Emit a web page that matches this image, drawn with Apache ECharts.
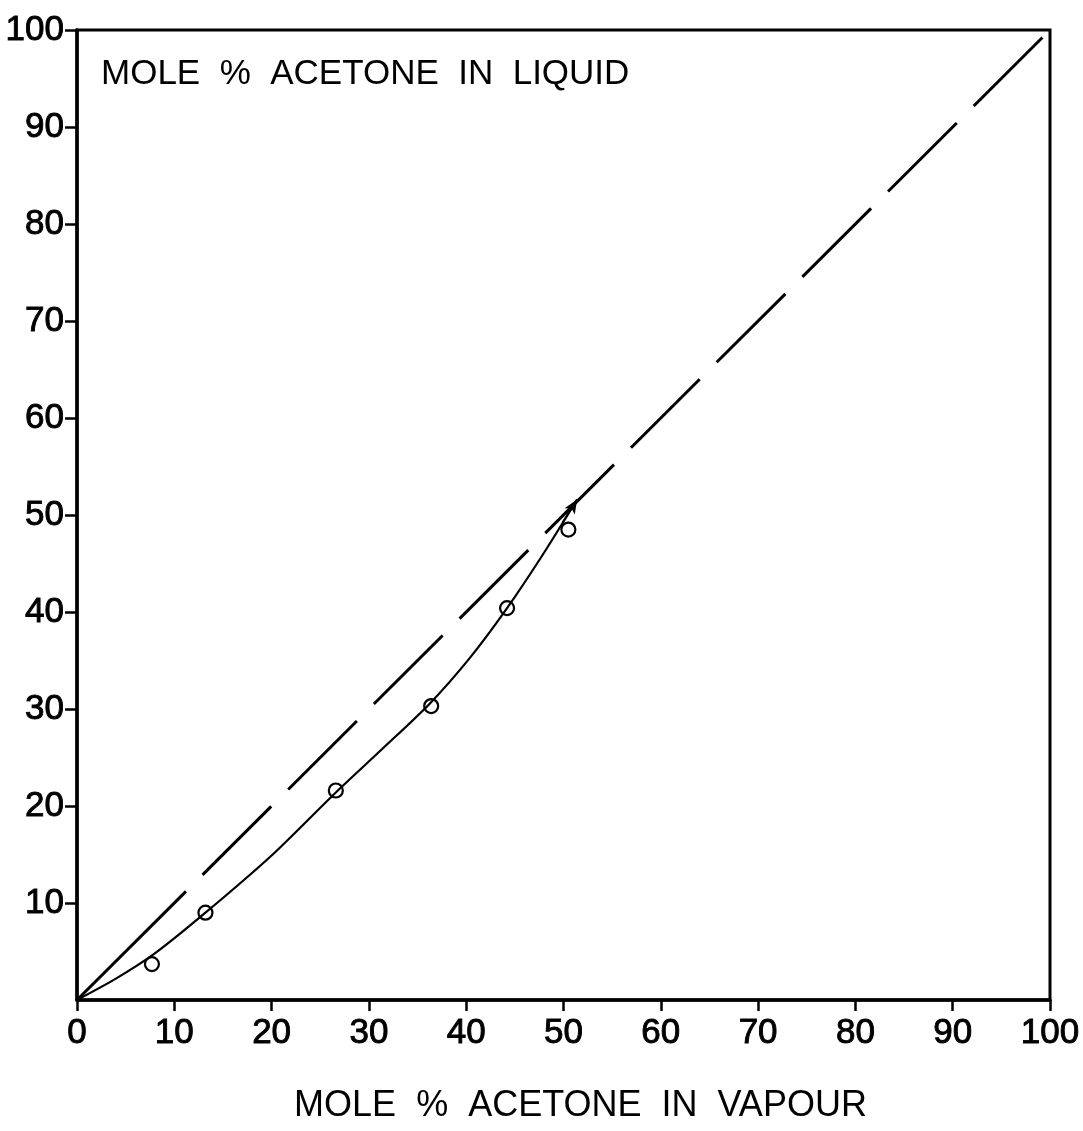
<!DOCTYPE html>
<html>
<head>
<meta charset="utf-8">
<script src="https://cdn.jsdelivr.net/npm/echarts@6/dist/echarts.min.js"></script>
<style>
html,body{margin:0;padding:0;background:#fff;}
#chart{width:1083px;height:1131px;}
</style>
</head>
<body>
<div id="chart"></div>
<script>
// Axis ticks
const xTicks = [0, 10, 20, 30, 40, 50, 60, 70, 80, 90, 100];
const yTicks = [10, 20, 30, 40, 50, 60, 70, 80, 90, 100];

// Measured points: mole % acetone in vapour (x) vs in liquid (y)
const pointX = [7.7, 13.2, 26.6, 36.4, 44.2, 50.5];
const pointY = [3.7, 9.0, 21.6, 30.3, 40.4, 48.5];

// Hand-drawn fitted curve
const curveX = [0, 4.0, 8.0, 13.2, 20.0, 26.6, 31.5, 36.2, 40.4, 44.2, 47.8, 51.4];
const curveY = [0, 2.2, 4.8, 9.0, 14.9, 21.4, 26.0, 30.5, 35.3, 40.4, 45.8, 51.6];

// Arrow at the end of the curve (tail, tip)
const arrowX = [49.9, 51.4];
const arrowY = [49.2, 51.6];

// 45-degree reference line (x = y): solid lead-in then dashed
const diagSolidX = [0, 11.2];
const diagSolidY = [0, 11.2];
const diagDashX = [12.9, 100];
const diagDashY = [12.9, 100];

const zip = (a, b) => a.map((v, i) => [v, b[i]]);
const FONT = 'Liberation Sans';
const tickFont = {fontFamily: FONT, fontSize: 35, fontWeight: 'normal', color: '#000',
  textBorderColor: '#000', textBorderWidth: 0.9};

const chart = echarts.init(document.getElementById('chart'), null, {renderer: 'canvas'});
chart.setOption({
  backgroundColor: '#fff',
  animation: false,
  title: {
    text: 'MOLE  %  ACETONE  IN  LIQUID',
    left: 96, top: 52,
    textStyle: {fontFamily: FONT, fontSize: 35, fontWeight: 'normal', color: '#000'}
  },
  grid: {
    left: 77, right: 33, top: 30, bottom: 131,
    show: true, borderColor: '#000', borderWidth: 3,
    outerBoundsMode: 'none'
  },
  xAxis: {
    type: 'value', min: 0, max: 100, interval: 10,
    name: 'MOLE  %  ACETONE  IN  VAPOUR',
    nameLocation: 'middle', nameGap: 88,
    nameTextStyle: {fontFamily: FONT, fontSize: 36, color: '#000', padding: [0, 0, 0, 34]},
    axisLine: {show: true, onZero: false, lineStyle: {color: '#000', width: 3.5}},
    axisTick: {show: true, length: 11, lineStyle: {color: '#000', width: 2.5}},
    axisLabel: Object.assign({margin: 16, customValues: xTicks}, tickFont),
    splitLine: {show: false}
  },
  yAxis: {
    type: 'value', min: 0, max: 100, interval: 10,
    axisLine: {show: true, onZero: false, lineStyle: {color: '#000', width: 3.5}},
    axisTick: {show: true, length: 12, lineStyle: {color: '#000', width: 2.5},
      customValues: yTicks},
    axisLabel: Object.assign({margin: 13, customValues: yTicks}, tickFont),
    splitLine: {show: false}
  },
  series: [
    {
      type: 'line', data: zip(diagSolidX, diagSolidY), symbol: 'none',
      lineStyle: {color: '#000', width: 3}, silent: true
    },
    {
      type: 'line', data: zip(diagDashX, diagDashY), symbol: 'none',
      lineStyle: {color: '#000', width: 3, type: [97, 24]}, silent: true
    },
    {
      type: 'line', data: zip(curveX, curveY), symbol: 'none', smooth: 0.25,
      lineStyle: {color: '#000', width: 2.2}, silent: true,
      markLine: {
        silent: true, symbol: ['none', 'arrow'], symbolSize: [9, 14],
        label: {show: false},
        lineStyle: {color: '#000', width: 2, type: 'solid'},
        data: [[{coord: [arrowX[0], arrowY[0]]}, {coord: [arrowX[1], arrowY[1]]}]]
      }
    },
    {
      type: 'scatter', data: zip(pointX, pointY), symbol: 'circle', symbolSize: 14,
      itemStyle: {color: 'rgba(0,0,0,0)', borderColor: '#000', borderWidth: 2.2, opacity: 1}, silent: true
    }
  ]
});
</script>
</body>
</html>
